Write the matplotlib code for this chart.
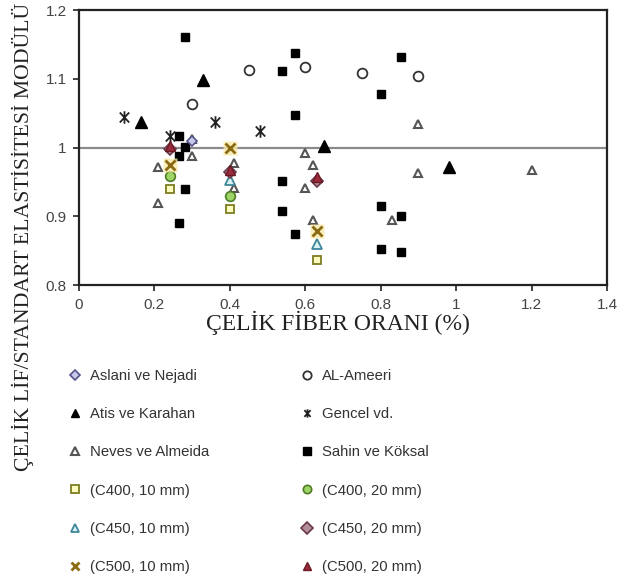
import matplotlib
matplotlib.use("Agg")
import matplotlib.pyplot as plt
from matplotlib.path import Path
from matplotlib.lines import Line2D

# data
aslani_x = [0.30]
aslani_y = [1.010]
ameeri_x = [0.30, 0.45, 0.60, 0.75, 0.90]
ameeri_y = [1.063, 1.113, 1.117, 1.109, 1.104]
atis_x = [0.165, 0.33, 0.65, 0.98]
atis_y = [1.037, 1.098, 1.002, 0.971]
gencel_x = [0.12, 0.24, 0.36, 0.48]
gencel_y = [1.045, 1.017, 1.037, 1.024]
neves_x = [0.21, 0.21, 0.30, 0.30, 0.41, 0.41, 0.60, 0.62, 0.60, 0.62, 0.83, 0.90, 0.90, 1.20]
neves_y = [0.972, 0.919, 0.988, 1.013, 0.978, 0.941, 0.992, 0.975, 0.941, 0.895, 0.894,
           1.034, 0.963, 0.967]
sahin_x = [0.28, 0.265, 0.28, 0.265, 0.28, 0.265, 0.537, 0.572, 0.572, 0.537, 0.537, 0.572,
           0.80, 0.853, 0.80, 0.853, 0.80, 0.853]
sahin_y = [1.161, 1.017, 1.001, 0.988, 0.939, 0.890, 1.112, 1.137, 1.047, 0.951, 0.908, 0.874,
           1.078, 1.131, 0.915, 0.901, 0.853, 0.848]
c400_10_x = [0.24, 0.40, 0.63]
c400_10_y = [0.939, 0.911, 0.837]
c400_20_x = [0.24, 0.40]
c400_20_y = [0.959, 0.929]
c450_10_x = [0.40, 0.63]
c450_10_y = [0.953, 0.860]
c450_20_x = [0.24, 0.40, 0.63]
c450_20_y = [0.998, 0.964, 0.951]
c500_10_x = [0.24, 0.40, 0.63]
c500_10_y = [0.975, 1.000, 0.878]
c500_20_x = [0.24, 0.40, 0.63]
c500_20_y = [1.002, 0.968, 0.957]

# X with a vertical bar
star = Path([(0, -1), (0, 1), (-0.75, -0.8), (0.75, 0.8), (-0.75, 0.8), (0.75, -0.8)],
            [Path.MOVETO, Path.LINETO, Path.MOVETO, Path.LINETO, Path.MOVETO, Path.LINETO])

styles = {
    "aslani": dict(marker="D", ms=5, mfc="#c9c9ea", mec="#55558a", mew=1.2),
    "ameeri": dict(marker="o", ms=7, mfc="white", mec="#333333", mew=1.3),
    "atis": dict(marker="^", ms=8, mfc="black", mec="black", mew=1),
    "gencel": dict(marker=star, ms=9, mfc="none", mec="#222222", mew=1.3),
    "neves": dict(marker="^", ms=5.5, mfc="white", mec="#555555", mew=1.5),
    "sahin": dict(marker="s", ms=6, mfc="black", mec="black", mew=1),
    "c400_10": dict(marker="s", ms=5.5, mfc="#fbfbc0", mec="#7d7d20", mew=1.3),
    "c400_20": dict(marker="o", ms=7, mfc="#9ed466", mec="#4f7d25", mew=1.2),
    "c450_10": dict(marker="^", ms=7.5, mfc="#d8f2f4", mec="#3f8797", mew=1.3),
    "c450_20": dict(marker="D", ms=6, mfc="#b48e98", mec="#6a3a4a", mew=1.2),
    "c500_10": dict(marker="x", ms=7, mfc="none", mec="#8a6a12", mew=2),
    "c500_20": dict(marker="^", ms=7, mfc="#9a2b3a", mec="#6a1a25", mew=1),
}

fig = plt.figure(figsize=(6.25, 5.82), dpi=100)
ax = fig.add_axes([0.1264, 0.5103, 0.8448, 0.4725])

ax.axhline(1.0, color="#8a8a8a", lw=1.6, zorder=1)

series = [
    (neves_x, neves_y, "neves"),
    (sahin_x, sahin_y, "sahin"),
    (ameeri_x, ameeri_y, "ameeri"),
    (atis_x, atis_y, "atis"),
    (gencel_x, gencel_y, "gencel"),
    (aslani_x, aslani_y, "aslani"),
    (c400_10_x, c400_10_y, "c400_10"),
    (c400_20_x, c400_20_y, "c400_20"),
    (c450_10_x, c450_10_y, "c450_10"),
    (c450_20_x, c450_20_y, "c450_20"),
    (c500_20_x, c500_20_y, "c500_20"),
]
for xs, ys, key in series:
    ax.plot(xs, ys, ls="none", zorder=3, **styles[key])

# yellowish glow behind the C500 10 mm crosses
ax.plot(c500_10_x, c500_10_y, ls="none", marker="s", ms=10, mfc="#f8e9a8", mec="none",
        alpha=0.8, zorder=3)
ax.plot(c500_10_x, c500_10_y, ls="none", zorder=4, **styles["c500_10"])

ax.set_xlim(0, 1.4)
ax.set_ylim(0.8, 1.2)
ax.set_xticks([0, 0.2, 0.4, 0.6, 0.8, 1.0, 1.2, 1.4])
ax.set_xticklabels(["0", "0.2", "0.4", "0.6", "0.8", "1", "1.2", "1.4"])
ax.set_yticks([0.8, 0.9, 1.0, 1.1, 1.2])
ax.set_yticklabels(["0.8", "0.9", "1", "1.1", "1.2"])
for s in ax.spines.values():
    s.set_linewidth(1.6)
    s.set_color("#222222")
ax.tick_params(direction="out", length=4, width=1.2, colors="#222222", labelcolor="#444444",
               labelsize=11, pad=5)
for lab in ax.get_xticklabels() + ax.get_yticklabels():
    lab.set_family("Liberation Sans")

ax.set_xlabel("ÇELİK FİBER ORANI (%)", family="Liberation Serif", fontsize=17,
              color="#222222", labelpad=3)
ax.xaxis.set_label_coords(0.49, -0.095)
fig.text(0.037, 0.995, "ÇELİK LİF/STANDART ELASTİSİTESİ MODÜLÜ", rotation=90,
         family="Liberation Serif", fontsize=15.7, color="#222222", ha="center", va="top")

def handle(key, label):
    st = dict(styles[key])
    st["ms"] = min(st["ms"], 6)
    return Line2D([], [], ls="none", label=label, **st)

col1 = [handle("aslani", "Aslani ve Nejadi"), handle("atis", "Atis ve Karahan"),
        handle("neves", "Neves ve Almeida"), handle("c400_10", "(C400, 10 mm)"),
        handle("c450_10", "(C450, 10 mm)"), handle("c500_10", "(C500, 10 mm)")]
col2 = [handle("ameeri", "AL-Ameeri"), handle("gencel", "Gencel vd."),
        handle("sahin", "Sahin ve Köksal"), handle("c400_20", "(C400, 20 mm)"),
        handle("c450_20", "(C450, 20 mm)"), handle("c500_20", "(C500, 20 mm)")]

leg_kw = dict(frameon=False, loc="upper left", labelspacing=1.63, handlelength=0.8,
              handletextpad=0.6, borderaxespad=0, borderpad=0,
              prop={"family": "Liberation Sans", "size": 10.7}, labelcolor="#333333")
fig.legend(handles=col1, bbox_to_anchor=(0.11, 0.366), **leg_kw)
fig.legend(handles=col2, bbox_to_anchor=(0.4816, 0.366), **leg_kw)

fig.savefig("out.png", dpi=100)
